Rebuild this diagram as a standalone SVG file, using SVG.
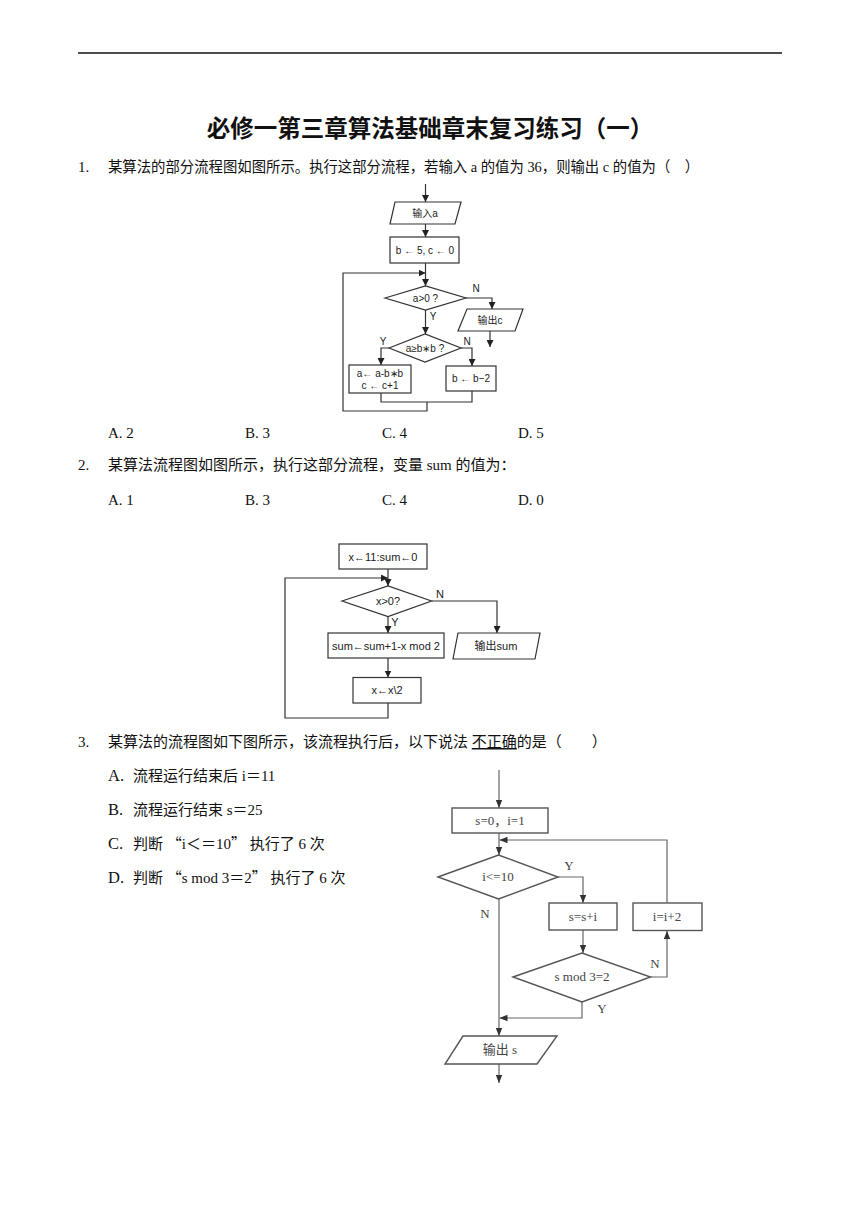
<svg xmlns="http://www.w3.org/2000/svg" width="860" height="1216" viewBox="0 0 860 1216">
<defs>
<marker id="ah" viewBox="0 0 10 10" refX="10" refY="5" markerWidth="7" markerHeight="7" markerUnits="userSpaceOnUse" orient="auto">
<path d="M0,0 L10,5 L0,10 z" fill="#222"/>
</marker>
<marker id="ah3" viewBox="0 0 10 10" refX="10" refY="5" markerWidth="8" markerHeight="8" markerUnits="userSpaceOnUse" orient="auto">
<path d="M0,1 L10,5 L0,9 z" fill="#333"/>
</marker>
</defs>
<style>
text{white-space:pre}
.q{font-family:"Liberation Serif","Noto Sans CJK SC",serif;font-size:15px;fill:#111}
.ql{font-family:"Liberation Serif","Noto Sans CJK SC",serif;font-size:16.5px;fill:#111}
.cj{font-family:"Noto Sans CJK SC",sans-serif}
.t{font-family:"Noto Sans CJK SC","Liberation Sans",sans-serif;font-size:23.5px;font-weight:bold;fill:#111}
.f1{font-family:"Liberation Sans","Noto Sans CJK SC",sans-serif;font-size:10px;fill:#222;text-anchor:middle}
.f2{font-family:"Liberation Sans","Noto Sans CJK SC",sans-serif;font-size:11px;fill:#222;text-anchor:middle}
.f3{font-family:"Liberation Serif","Noto Sans CJK SC",serif;font-size:13px;fill:#444;text-anchor:middle}
.s1{fill:#fff;stroke:#333;stroke-width:1.2}
.s3{fill:#fff;stroke:#555;stroke-width:1.4}
.c1{fill:none;stroke:#333;stroke-width:1.2}
.c3{fill:none;stroke:#666;stroke-width:1.2}
</style>
<rect width="860" height="1216" fill="#fff"/>
<line x1="78" y1="53" x2="782" y2="53" stroke="#111" stroke-width="1.5"/>
<text class="t" x="430" y="137" text-anchor="middle">必修一第三章算法基础章末复习练习（一）</text>

<g id="q1">
<text class="q" x="78" y="172">1.</text>
<text class="q" x="108" y="172" textLength="591" lengthAdjust="spacingAndGlyphs">某算法的部分流程图如图所示。执行这部分流程，若输入 a 的值为 36，则输出 c 的值为（　）</text>
<text class="q" x="108" y="438">A. 2</text>
<text class="q" x="245" y="438">B. 3</text>
<text class="q" x="382" y="438">C. 4</text>
<text class="q" x="518" y="438">D. 5</text>
</g>

<g id="fc1-connectors">
<line class="c1" x1="425.5" y1="184" x2="425.5" y2="202" marker-end="url(#ah)"/>
<line class="c1" x1="425.5" y1="224" x2="425.5" y2="237" marker-end="url(#ah)"/>
<line class="c1" x1="425.5" y1="263" x2="425.5" y2="286" marker-end="url(#ah)"/>
<polyline class="c1" points="466,298 492,298 492,309" marker-end="url(#ah)"/>
<line class="c1" x1="490" y1="331" x2="490" y2="347" marker-end="url(#ah)"/>
<line class="c1" x1="425.5" y1="310" x2="425.5" y2="334" marker-end="url(#ah)"/>
<polyline class="c1" points="389,348 381,348 381,365" marker-end="url(#ah)"/>
<polyline class="c1" points="461,348 472,348 472,366" marker-end="url(#ah)"/>
<polyline class="c1" points="381,393 381,402 472,402 472,391"/>
<polyline class="c1" points="427,402 427,411 343,411 343,273 425.5,273" marker-end="url(#ah)"/>
<text class="f1" x="476" y="292">N</text>
<text class="f1" x="433" y="320">Y</text>
<text class="f1" x="383" y="345">Y</text>
<text class="f1" x="467" y="345">N</text>
</g>
<g id="fc1-input"><polygon class="s1" points="395,202 461,202 455,224 390,224"/><text class="f1" x="425" y="217">输入a</text></g>
<g id="fc1-init"><rect class="s1" x="390" y="237" width="69" height="26"/><text class="f1" x="425" y="254">b ← 5, c ← 0</text></g>
<g id="fc1-d1"><polygon class="s1" points="385,298 425.5,286 466,298 425.5,310"/><text class="f1" x="425.5" y="302">a&gt;0 ?</text></g>
<g id="fc1-out"><polygon class="s1" points="467,309 523,309 515,331 458,331"/><text class="f1" x="490" y="324">输出c</text></g>
<g id="fc1-d2"><polygon class="s1" points="389,348 425,334 461,348 425,362"/><text class="f1" x="425" y="352">a≥b∗b ?</text></g>
<g id="fc1-r1"><rect class="s1" x="349" y="365" width="62" height="28"/><text class="f1" x="380" y="377">a← a-b∗b</text><text class="f1" x="380" y="389">c ← c+1</text></g>
<g id="fc1-r2"><rect class="s1" x="446" y="366" width="50" height="25"/><text class="f1" x="471" y="382">b ← b−2</text></g>

<g id="q2">
<text class="q" x="78" y="470">2.</text>
<text class="q" x="108" y="470">某算法流程图如图所示，执行这部分流程，变量 sum 的值为：</text>
<text class="q" x="108" y="505">A. 1</text>
<text class="q" x="245" y="505">B. 3</text>
<text class="q" x="382" y="505">C. 4</text>
<text class="q" x="518" y="505">D. 0</text>
</g>

<g id="fc2-connectors">
<line class="c1" x1="388" y1="569" x2="388" y2="586" marker-end="url(#ah)"/>
<polyline class="c1" points="431.5,601 497,601 497,633" marker-end="url(#ah)"/>
<line class="c1" x1="388" y1="616.5" x2="388" y2="633" marker-end="url(#ah)"/>
<line class="c1" x1="388" y1="658" x2="388" y2="677.5" marker-end="url(#ah)"/>
<polyline class="c1" points="388,703 388,718 285,718 285,578 388,578" marker-end="url(#ah)"/>
<text class="f2" x="440" y="598">N</text>
<text class="f2" x="395" y="626">Y</text>
</g>
<g id="fc2-init"><rect class="s1" x="339" y="544" width="88" height="25"/><text class="f2" x="383" y="560.5">x←11:sum←0</text></g>
<g id="fc2-d"><polygon class="s1" points="342,601 388,586 431.5,601 388,616.5"/><text class="f2" x="388" y="605">x&gt;0?</text></g>
<g id="fc2-out"><polygon class="s1" points="458,633 540,633 535,659 453,659"/><text class="f2" x="496" y="650">输出sum</text></g>
<g id="fc2-r1"><rect class="s1" x="328" y="633" width="116" height="25"/><text class="f2" x="386" y="649.5">sum←sum+1-x mod 2</text></g>
<g id="fc2-r2"><rect class="s1" x="353" y="677.5" width="68" height="25.5"/><text class="f2" x="387" y="694">x←x\2</text></g>

<g id="q3">
<text class="q" x="78" y="747">3.</text>
<text class="q" x="108" y="747">某算法的流程图如下图所示，该流程执行后，以下说法 <tspan text-decoration="underline">不正确</tspan>的是（　　）</text>
<text class="ql" x="108" y="781">A.</text>
<text class="q" x="133" y="781">流程运行结束后 i＝11</text>
<text class="ql" x="108" y="815">B.</text>
<text class="q" x="133" y="815">流程运行结束 s＝25</text>
<text class="ql" x="108" y="849">C.</text>
<text class="q" x="133" y="849">判断 <tspan class="cj">“</tspan>i＜＝10<tspan class="cj">”</tspan> 执行了 6 次</text>
<text class="ql" x="108" y="883">D.</text>
<text class="q" x="133" y="883">判断 <tspan class="cj">“</tspan>s mod 3＝2<tspan class="cj">”</tspan> 执行了 6 次</text>
</g>

<g id="fc3-connectors">
<line class="c3" x1="499" y1="770" x2="499" y2="808" marker-end="url(#ah3)"/>
<line class="c3" x1="499" y1="833" x2="499" y2="855" marker-end="url(#ah3)"/>
<polyline class="c3" points="667,903 667,840 499.5,840" marker-end="url(#ah3)"/>
<polyline class="c3" points="558,877 583,877 583,903" marker-end="url(#ah3)"/>
<line class="c3" x1="583" y1="930" x2="583" y2="953" marker-end="url(#ah3)"/>
<polyline class="c3" points="650.5,977 667,977 667,931" marker-end="url(#ah3)"/>
<polyline class="c3" points="582,1002 582,1018 499.5,1018" marker-end="url(#ah3)"/>
<line class="c3" x1="499" y1="899" x2="499" y2="1036" marker-end="url(#ah3)"/>
<line class="c3" x1="499" y1="1064" x2="499" y2="1083" marker-end="url(#ah3)"/>
<text class="f3" x="569" y="870">Y</text>
<text class="f3" x="485" y="918">N</text>
<text class="f3" x="655" y="968">N</text>
<text class="f3" x="602" y="1013">Y</text>
</g>
<g id="fc3-init"><rect class="s3" x="452" y="808" width="96" height="25"/><text class="f3" x="500" y="825">s=0，i=1</text></g>
<g id="fc3-d1"><polygon class="s3" points="438,877 498.5,855 558,877 498.5,899"/><text class="f3" x="498" y="881">i&lt;=10</text></g>
<g id="fc3-r1"><rect class="s3" x="549" y="903" width="68" height="27"/><text class="f3" x="583" y="921">s=s+i</text></g>
<g id="fc3-d2"><polygon class="s3" points="513,977 582,953 650.5,977 582,1002"/><text class="f3" x="582" y="981">s mod 3=2</text></g>
<g id="fc3-r2"><rect class="s3" x="633" y="903" width="69" height="27.5"/><text class="f3" x="667" y="921">i=i+2</text></g>
<g id="fc3-out"><polygon class="s3" points="463,1036 557,1036 537,1064 445,1064"/><text class="f3" x="500" y="1054">输出 s</text></g>
</svg>
